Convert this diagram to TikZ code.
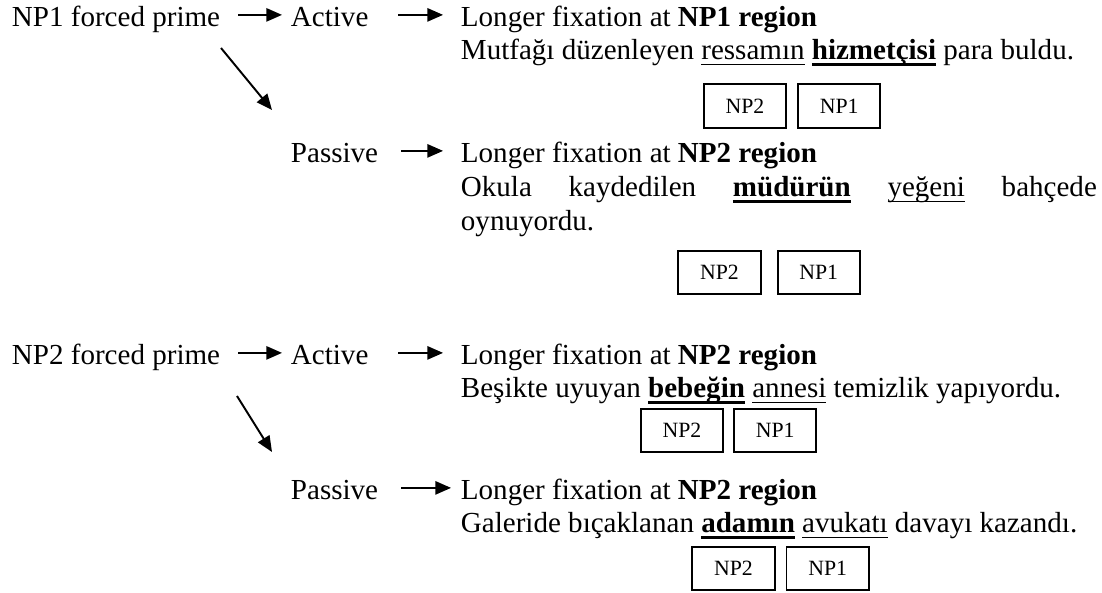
\documentclass[tikz,border=0pt]{standalone}
\usepackage{fontspec}
\setmainfont{Liberation Serif}
\usetikzlibrary{arrows.meta,positioning}

% no hyphens, justified lines may stretch
\hyphenpenalty=10000 \exhyphenpenalty=10000
\tolerance=10000 \hbadness=10000

% underlined words, plain and bold
\newcommand{\ulword}[1]{\setbox0\hbox{#1}\rlap{\rule[-2.1pt]{\wd0}{0.55pt}}\box0\relax}
\newcommand{\ulbold}[1]{\setbox0\hbox{\textbf{#1}}\rlap{\rule[-2.4pt]{\wd0}{1.1pt}}\box0\relax}

\begin{document}
\begin{tikzpicture}[x=0.4131pt, y=-0.4131pt, line width=0.8pt,
    txt/.style={anchor=base west, inner sep=0pt, font=\fontsize{12pt}{13.7pt}\selectfont},
    lbl/.style={txt, text height=10pt, text depth=0pt},
    arr/.style={-{Triangle[length=6.5pt,width=5.5pt]}},
    npbox/.style={draw, inner sep=0pt, minimum width=34pt, minimum height=18pt, font=\fontsize{9pt}{10pt}\selectfont}]
    \useasboundingbox (0,0) rectangle (1102,593);

    % NP1 forced prime
    \node[lbl] (prime1) at (11,27) {NP1 forced prime};
    \node[lbl] (active1) at (290,27) {Active};
    \node[lbl] (passive1) at (290,163) {Passive};
    \node[txt] (fix1) at (460,27) {Longer fixation at \textbf{NP1 region}};
    \node[txt] (sent1) at (460,60) {Mutfağı düzenleyen \ulword{ressamın} \ulbold{hizmetçisi} para buldu.};
    \node[npbox] (b1a) at (745,106) {NP2};
    \node[npbox, right=4.1pt of b1a] (b1b) {NP1};
    \node[txt] (fix2) at (460,163) {Longer fixation at \textbf{NP2 region}};
    \node[txt, text width=262.7pt, align=justify] (sent2) at (460,197)
        {Okula kaydedilen \ulbold{müdürün} \ulword{yeğeni} bahçede oynuyordu.};
    \node[npbox] (b2a) at (719.5,272.5) {NP2};
    \node[npbox, right=6.2pt of b2a] (b2b) {NP1};

    \draw[arr, shorten <=7pt, shorten >=3.3pt] (prime1) -- (active1);
    \draw[arr, shorten <=12pt, shorten >=7pt] (active1) -- (active1 -| fix1.west);
    \draw[arr, shorten <=9.2pt, shorten >=7pt] (passive1) -- (passive1 -| fix2.west);
    \coordinate (down1) at (221,48);
    \coordinate (tip1) at (272,110);
    \draw[arr] (down1) -- (tip1);

    % NP2 forced prime
    \node[lbl] (prime2) at (11,365) {NP2 forced prime};
    \node[lbl] (active2) at (290,365) {Active};
    \node[lbl] (passive2) at (290,500) {Passive};
    \node[txt] (fix3) at (460,365) {Longer fixation at \textbf{NP2 region}};
    \node[txt] (sent3) at (460,398) {Beşikte uyuyan \ulbold{bebeğin} \ulword{annesi} temizlik yapıyordu.};
    \node[npbox] (b3a) at (682,430.5) {NP2};
    \node[npbox, right=3.7pt of b3a] (b3b) {NP1};
    \node[txt] (fix4) at (460,500) {Longer fixation at \textbf{NP2 region}};
    \node[txt] (sent4) at (460,533) {Galeride bıçaklanan \ulbold{adamın} \ulword{avukatı} davayı kazandı.};
    \node[npbox] (b4a) at (733.5,568.5) {NP2};
    \node[npbox, right=4.1pt of b4a] (b4b) {NP1};

    \draw[arr, shorten <=7pt, shorten >=3.3pt] (prime2) -- (active2);
    \draw[arr, shorten <=12pt, shorten >=7pt] (active2) -- (active2 -| fix3.west);
    \draw[arr, shorten <=9.2pt, shorten >=3.7pt] (passive2) -- (passive2 -| fix4.west);
    \coordinate (down2) at (237,396);
    \coordinate (tip2) at (272,452);
    \draw[arr] (down2) -- (tip2);
\end{tikzpicture}
\end{document}
